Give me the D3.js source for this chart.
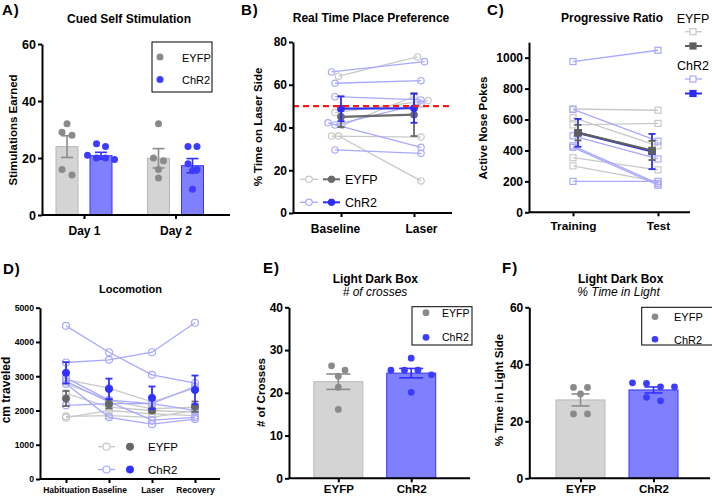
<!DOCTYPE html>
<html>
<head>
<meta charset="utf-8">
<script src="https://cdn.jsdelivr.net/npm/d3@7"></script>
<style>
  body { margin: 0; background: #fff; }
  svg { display: block; }
</style>
</head>
<body>
<div id="chart"></div>
<script>
// ---- data ----
const groups = ['EYFP', 'ChR2'];

// A) Cued self stimulation
const aDays = ['Day 1', 'Day 2'];
const aEyfp = [[32, 29, 28, 16, 14], [32, 20, 19, 16, 13]];
const aChr2 = [[25, 24, 21, 20, 20, 19.5], [24, 24, 18, 16, 15.5, 9]];
const aEyfpMean = [24.0, 19.9], aEyfpSem = [3.8, 3.4];
const aChr2Mean = [20.8, 17.3], aChr2Sem = [1.2, 2.5];

// B) Real time place preference, one row per animal [Baseline, Laser]
const bConds = ['Baseline', 'Laser'];
const bEyfp = [[64, 73], [47, 52.6], [41, 54.5], [36, 35.5], [36, 15]];
const bChr2 = [[66, 70.8], [60.7, 61.9], [54.4, 52.9], [42.2, 30.7], [41.2, 51], [29.5, 27.9]];
const bEyfpMean = [45, 46], bEyfpSem = [4.8, 10];
const bChr2Mean = [48.8, 49], bChr2Sem = [5.8, 6.8];

// C) Progressive ratio [Training, Test]
const cConds = ['Training', 'Test'];
const cEyfp = [[668, 660], [612, 430], [565, 575], [353, 275], [300, 198]];
const cChr2 = [[975, 1048], [665, 460], [495, 345], [430, 185], [420, 175], [200, 200]];
const cEyfpMean = [515, 400], cEyfpSem = [50, 62];
const cChr2Mean = [514, 393], cChr2Sem = [90, 114];

// D) Locomotion [Habituation, Baseline, Laser, Recovery]
const dConds = ['Habituation', 'Baseline', 'Laser', 'Recovery'];
const dEyfp = [
  [2900, 2650, 2250, 2650],
  [2780, 2300, 2050, 2100],
  [2500, 2100, 2000, 1950],
  [1830, 1850, 1800, 2000],
  [1790, 2000, 1900, 1850]
];
const dChr2 = [
  [4470, 3700, 3040, 2800],
  [3400, 3480, 3700, 4560],
  [2950, 2300, 2200, 2700],
  [2850, 2250, 1720, 1800],
  [2150, 2200, 2200, 2000],
  [2780, 1800, 1600, 1750]
];
const dEyfpMean = [2350, 2190, 2000, 2110], dEyfpSem = [220, 130, 60, 150];
const dChr2Mean = [3100, 2630, 2370, 2600], dChr2Sem = [310, 300, 330, 420];

// E) Light dark box, # of crosses
const eEyfp = [26.3, 25.3, 23.9, 21.3, 16.1];
const eChr2 = [28.1, 25.3, 25.3, 24.2, 25.3, 20.1];
const eMean = [22.6, 24.6], eSem = [1.8, 1.1];

// F) Light dark box, % time in light
const fEyfp = [31.9, 31.9, 29.6, 22.6, 22.6];
const fChr2 = [32.1, 33.5, 32.1, 33.3, 27.2, 28.4];
const fMean = [27.5, 31.0], fSem = [2.1, 1.05];

// ---- styles ----
const FONT = '"Liberation Sans", Arial, Helvetica, sans-serif';
const GRAY = { bar: '#d4d4d4', barStroke: '#b8b8b8', dot: '#8a8a8a', err: '#8c8c8c',
               ind: '#c8c8c8', mean: '#6a6a6a' };
const BLUE = { bar: '#8080ff', barStroke: '#3333ff', dot: '#3c3cff', err: '#3030ff',
               ind: '#a8a8ff', mean: '#2e2ef2' };

const svg = d3.select('#chart').append('svg')
  .attr('width', 712).attr('height', 496)
  .style('font-family', FONT);

// ---- helpers ----
function text(x, y, str, size, opts = {}) {
  const t = svg.append('text')
    .attr('x', x).attr('y', y)
    .attr('text-anchor', opts.anchor || 'start')
    .style('font-size', size + 'px')
    .style('font-weight', opts.weight || 'normal')
    .style('font-style', opts.italic ? 'italic' : 'normal')
    .attr('fill', '#000')
    .text(str);
  if (opts.rotate) t.attr('transform', `rotate(-90,${x},${y})`);
  return t;
}

function styleAxis(g, size) {
  g.attr('font-size', null).attr('font-family', null);
  g.selectAll('path, line').attr('stroke', '#000').attr('stroke-width', 2);
  g.selectAll('text').attr('fill', '#000')
    .style('font-size', size + 'px').style('font-weight', 'bold');
}

function leftAxis(y, x, ticks, size) {
  const g = svg.append('g').attr('transform', `translate(${x},0)`)
    .call(d3.axisLeft(y).tickValues(ticks).tickFormat(d3.format('d'))
      .tickSize(4).tickSizeOuter(0).tickPadding(2));
  styleAxis(g, size);
}

function bottomAxis(x, y, size, tickSize, pad) {
  const g = svg.append('g').attr('transform', `translate(0,${y})`)
    .call(d3.axisBottom(x).tickSize(tickSize).tickPadding(pad));
  g.select('.domain').remove();
  styleAxis(g, size);
  return g;
}

function xLine(x0, x1, y) {
  svg.append('line').attr('x1', x0).attr('x2', x1).attr('y1', y).attr('y2', y)
    .attr('stroke', '#000').attr('stroke-width', 2);
}

function errBar(x, y1, y2, cap, color, w) {
  const g = svg.append('g').attr('stroke', color).attr('stroke-width', w);
  g.append('line').attr('x1', x).attr('x2', x).attr('y1', y1).attr('y2', y2);
  [y1, y2].forEach(yy => g.append('line')
    .attr('x1', x - cap / 2).attr('x2', x + cap / 2).attr('y1', yy).attr('y2', yy));
}

// GraphPad-like scatter: points with close values share a row and spread sideways
function swarm(vals, y, spacing, thresh) {
  const idx = d3.range(vals.length).sort((a, b) => vals[b] - vals[a]);
  const off = vals.map(() => 0);
  let row = [];
  const flush = () => row.forEach((k, j) => { off[k] = (j - (row.length - 1) / 2) * spacing; });
  idx.forEach(k => {
    if (row.length && Math.abs(y(vals[k]) - y(vals[row[0]])) > thresh) { flush(); row = []; }
    row.push(k);
  });
  flush();
  return off;
}

function barGroup(cx, y, mean, sem, pts, st, bw, cap, spacing, r) {
  svg.append('rect')
    .attr('x', cx - bw / 2).attr('y', y(mean))
    .attr('width', bw).attr('height', y(0) - y(mean))
    .attr('fill', st.bar).attr('stroke', st.barStroke).attr('stroke-width', 1);
  errBar(cx, y(mean + sem), y(mean - sem), cap, st.err, 1.6);
  const off = swarm(pts, y, spacing, 6);
  svg.append('g').selectAll('circle').data(pts).join('circle')
    .attr('cx', (d, i) => cx + off[i]).attr('cy', d => y(d))
    .attr('r', r).attr('fill', st.dot);
}

function legendBox(x, y, w, h, r, size, rows) {
  svg.append('rect').attr('x', x).attr('y', y).attr('width', w).attr('height', h)
    .attr('fill', '#fff').attr('stroke', '#000').attr('stroke-width', 1);
  rows.forEach(d => {
    svg.append('circle').attr('cx', d.cx).attr('cy', d.cy).attr('r', r).attr('fill', d.color);
    text(d.tx, d.ty, d.label, size);
  });
}

// individual positions for paired data, sharing rows across both groups
function pairedPositions(rowsA, rowsB, conds, xi, y, spacing, thresh) {
  const posA = rowsA.map(() => []), posB = rowsB.map(() => []);
  conds.forEach((c, ci) => {
    const vals = rowsA.map(r => r[ci]).concat(rowsB.map(r => r[ci]));
    const off = spacing ? swarm(vals, y, spacing, thresh) : vals.map(() => 0);
    vals.forEach((v, k) => {
      const p = [xi(c) + off[k], y(v)];
      if (k < rowsA.length) posA[k][ci] = p; else posB[k - rowsA.length][ci] = p;
    });
  });
  return [posA, posB];
}

function drawMarker(g, shape, x, y, size, stroke, fill, sw) {
  if (shape === 'circle') {
    g.append('circle').attr('cx', x).attr('cy', y).attr('r', size)
      .attr('fill', fill).attr('stroke', stroke).attr('stroke-width', sw);
  } else {
    g.append('rect').attr('x', x - size).attr('y', y - size)
      .attr('width', size * 2).attr('height', size * 2)
      .attr('fill', fill).attr('stroke', stroke).attr('stroke-width', sw);
  }
}

function individuals(pos, st, shape, size) {
  const g = svg.append('g');
  g.selectAll('path').data(pos).join('path')
    .attr('d', d3.line()).attr('fill', 'none')
    .attr('stroke', st.ind).attr('stroke-width', 1.3);
  pos.forEach(row => row.forEach(p => drawMarker(g, shape, p[0], p[1], size, st.ind, 'none', 1.2)));
}

function means(conds, xm, y, mean, sem, color, shape, size, cap, withLine) {
  const g = svg.append('g');
  const pts = conds.map((c, i) => [xm(c), y(mean[i])]);
  if (withLine) {
    g.append('path').attr('d', d3.line()(pts)).attr('fill', 'none')
      .attr('stroke', color).attr('stroke-width', 2.2);
  }
  conds.forEach((c, i) => errBar(xm(c), y(mean[i] + sem[i]), y(mean[i] - sem[i]), cap, color, 1.8));
  pts.forEach(p => drawMarker(svg, shape, p[0], p[1], size, color, color, 1));
}

// ================= A) =================
text(2, 15, 'A)', 15, { weight: 'bold' }).style('letter-spacing', '1px');
text(129, 23, 'Cued Self Stimulation', 12, { anchor: 'middle', weight: 'bold' });
text(17, 130, 'Stimulations Earned', 11.5, { anchor: 'middle', weight: 'bold', rotate: true });
const aY = d3.scaleLinear().domain([0, 60]).range([215, 44]);
const aX = d3.scalePoint().domain(aDays).range([84, 175.5]);
const aSub = d3.scalePoint().domain(groups).range([-17, 17]);
aDays.forEach((day, i) => {
  barGroup(aX(day) + aSub('EYFP'), aY, aEyfpMean[i], aEyfpSem[i], aEyfp[i], GRAY, 22, 12, 10, 3.5);
  barGroup(aX(day) + aSub('ChR2'), aY, aChr2Mean[i], aChr2Sem[i], aChr2[i], BLUE, 22, 12, 9, 3.5);
});
leftAxis(aY, 42, [0, 20, 40, 60], 12.5);
xLine(42, 230, 215);
bottomAxis(aX, 215, 12, 4, 7);
legendBox(152, 42, 60, 50, 3.5, 11, [
  { cx: 160, cy: 57, tx: 182, ty: 61.5, label: 'EYFP', color: GRAY.dot },
  { cx: 160, cy: 79.5, tx: 182, ty: 84, label: 'ChR2', color: BLUE.dot }
]);

// ================= B) =================
text(241, 15, 'B)', 15, { weight: 'bold' }).style('letter-spacing', '1px');
text(371, 21.5, 'Real Time Place Preference', 12, { anchor: 'middle', weight: 'bold' });
text(262, 127, '% Time on Laser Side', 11.5, { anchor: 'middle', weight: 'bold', rotate: true });
const bY = d3.scaleLinear().domain([0, 80]).range([213, 42]);
const bXm = d3.scalePoint().domain(bConds).range([341, 414]);
const bXi = d3.scalePoint().domain(bConds).range([335, 421]);
const [bPosE, bPosC] = pairedPositions(bEyfp, bChr2, bConds, bXi, bY, 7, 5);
individuals(bPosE, GRAY, 'circle', 3.2);
individuals(bPosC, BLUE, 'circle', 3.2);
means(bConds, bXm, bY, bEyfpMean, bEyfpSem, GRAY.mean, 'circle', 3.5, 7, true);
means(bConds, bXm, bY, bChr2Mean, bChr2Sem, BLUE.mean, 'circle', 3.5, 7, true);
svg.append('line').attr('x1', 293).attr('x2', 452).attr('y1', bY(50)).attr('y2', bY(50))
  .attr('stroke', '#ff1a1a').attr('stroke-width', 2.2).attr('stroke-dasharray', '6,4');
leftAxis(bY, 293, d3.range(0, 81, 20), 12);
xLine(293, 452, 213);
bottomAxis(bXm, 213, 12, 4, 7).selectAll('text').attr('x', d => bXi(d) - bXm(d));
// legend
[[179.3, GRAY, 'EYFP', 183.5], [202.3, BLUE, 'ChR2', 206.5]].forEach(([yy, st, lab, ty]) => {
  const g = svg.append('g');
  g.append('line').attr('x1', 300).attr('x2', 318).attr('y1', yy).attr('y2', yy)
    .attr('stroke', st.ind).attr('stroke-width', 1.3);
  drawMarker(g, 'circle', 309, yy, 3.2, st.ind, '#fff', 1.2);
  g.append('line').attr('x1', 323).attr('x2', 340).attr('y1', yy).attr('y2', yy)
    .attr('stroke', st.mean).attr('stroke-width', 2);
  drawMarker(g, 'circle', 331.5, yy, 3.3, st.mean, st.mean, 1);
  text(345, ty, lab, 12.5);
});

// ================= C) =================
text(487, 15, 'C)', 15, { weight: 'bold' }).style('letter-spacing', '1px');
text(612, 21.5, 'Progressive Ratio', 12, { anchor: 'middle', weight: 'bold' });
text(487, 128, 'Active Nose Pokes', 11.5, { anchor: 'middle', weight: 'bold', rotate: true });
const cY = d3.scaleLinear().domain([0, 1100]).range([212.3, 42.2]);
const cXm = d3.scalePoint().domain(cConds).range([578, 652]);
const cXi = d3.scalePoint().domain(cConds).range([573, 658]);
const [cPosE, cPosC] = pairedPositions(cEyfp, cChr2, cConds, cXi, cY, 0, 0);
individuals(cPosE, GRAY, 'square', 3);
individuals(cPosC, BLUE, 'square', 3);
means(cConds, cXm, cY, cChr2Mean, cChr2Sem, BLUE.mean, 'square', 3.2, 7, true);
means(cConds, cXm, cY, cEyfpMean, cEyfpSem, '#5f5f5f', 'square', 3.2, 7, true);
leftAxis(cY, 529, d3.range(0, 1001, 200), 12);
xLine(529, 690, 212.3);
bottomAxis(cXi, 212.3, 11.8, 4, 5);
// legend
text(693, 22.5, 'EYFP', 12.5, { anchor: 'middle' });
text(693, 69.5, 'ChR2', 12.5, { anchor: 'middle' });
[[31.7, GRAY.ind, 'none'], [46, '#5f5f5f', '#5f5f5f'], [79, BLUE.ind, 'none'], [93.5, BLUE.mean, BLUE.mean]]
  .forEach(([yy, col, fill]) => {
    const g = svg.append('g');
    g.append('line').attr('x1', 685).attr('x2', 702).attr('y1', yy).attr('y2', yy)
      .attr('stroke', col).attr('stroke-width', fill === 'none' ? 1.3 : 2);
    drawMarker(g, 'square', 693, yy, 3, col, fill === 'none' ? '#fff' : fill, 1.2);
  });

// ================= D) =================
text(3, 274, 'D)', 15, { weight: 'bold' }).style('letter-spacing', '1px');
text(130.5, 293, 'Locomotion', 11, { anchor: 'middle', weight: 'bold' });
text(10, 390, 'cm traveled', 12, { anchor: 'middle', weight: 'bold', rotate: true });
const dY = d3.scaleLinear().domain([0, 5000]).range([479, 307.7]);
const dX = d3.scalePoint().domain(dConds).range([66, 195]);
const [dPosE, dPosC] = pairedPositions(dEyfp, dChr2, dConds, dX, dY, 0, 0);
individuals(dPosE, GRAY, 'circle', 3.5);
individuals(dPosC, BLUE, 'circle', 3.5);
means(dConds, dX, dY, dEyfpMean, dEyfpSem, '#666666', 'circle', 3.6, 7, false);
means(dConds, dX, dY, dChr2Mean, dChr2Sem, BLUE.err, 'circle', 3.6, 7, false);
leftAxis(dY, 40, d3.range(0, 5001, 1000), 8.7);
xLine(40, 220, 479);
bottomAxis(dX, 479, 8.5, 4, 4);
[[446.7, GRAY, '#666666', 'EYFP', 451], [469.5, BLUE, BLUE.err, 'ChR2', 474]].forEach(([yy, st, dark, lab, ty]) => {
  const g = svg.append('g');
  g.append('line').attr('x1', 98).attr('x2', 115).attr('y1', yy).attr('y2', yy)
    .attr('stroke', st.ind).attr('stroke-width', 1.3);
  drawMarker(g, 'circle', 106.5, yy, 3.5, st.ind, '#fff', 1.2);
  drawMarker(g, 'circle', 130, yy, 3.6, dark, dark, 1);
  text(148, ty, lab, 11.5);
});

// ================= E) =================
text(263, 273, 'E)', 15, { weight: 'bold' }).style('letter-spacing', '1px');
text(375.3, 282.5, 'Light Dark Box', 12, { anchor: 'middle', weight: 'bold' });
text(375, 296, '# of crosses', 12, { anchor: 'middle', italic: true });
text(265, 392.5, '# of Crosses', 11.5, { anchor: 'middle', weight: 'bold', rotate: true });
const eY = d3.scaleLinear().domain([0, 40]).range([478.3, 307.3]);
const eX = d3.scalePoint().domain(groups).range([338.3, 411.2]);
barGroup(eX('EYFP'), eY, eMean[0], eSem[0], eEyfp, GRAY, 49, 24, 13.5, 3.4);
barGroup(eX('ChR2'), eY, eMean[1], eSem[1], eChr2, BLUE, 49, 24, 13.5, 3.4);
leftAxis(eY, 289, d3.range(0, 41, 10), 12);
xLine(289, 470, 478.3);
bottomAxis(eX, 478.3, 11.5, 4, 3);
legendBox(412, 306.7, 60, 38.3, 3.4, 10.5, [
  { cx: 426, cy: 312.7, tx: 442, ty: 316.5, label: 'EYFP', color: GRAY.dot },
  { cx: 426, cy: 337.3, tx: 442, ty: 341, label: 'ChR2', color: BLUE.dot }
]);

// ================= F) =================
text(502, 273, 'F)', 15, { weight: 'bold' }).style('letter-spacing', '1px');
text(620.7, 282.5, 'Light Dark Box', 12, { anchor: 'middle', weight: 'bold' });
text(618.5, 296, '% Time in Light', 12, { anchor: 'middle', italic: true });
text(503, 390, '% Time in Light Side', 11.5, { anchor: 'middle', weight: 'bold', rotate: true });
const fY = d3.scaleLinear().domain([0, 60]).range([478.3, 307.3]);
const fX = d3.scalePoint().domain(groups).range([580.5, 653.5]);
barGroup(fX('EYFP'), fY, fMean[0], fSem[0], fEyfp, GRAY, 49, 18, 14, 3.4);
barGroup(fX('ChR2'), fY, fMean[1], fSem[1], fChr2, BLUE, 49, 18, 14, 3.4);
leftAxis(fY, 529.3, d3.range(0, 61, 20), 12);
xLine(529.3, 710, 478.3);
bottomAxis(fX, 478.3, 11.5, 4, 3);
legendBox(641.7, 307.3, 75, 37.7, 3.3, 11, [
  { cx: 655, cy: 316.7, tx: 674, ty: 320.7, label: 'EYFP', color: GRAY.dot },
  { cx: 655, cy: 339.3, tx: 674, ty: 343.5, label: 'ChR2', color: BLUE.dot }
]);
</script>
</body>
</html>
